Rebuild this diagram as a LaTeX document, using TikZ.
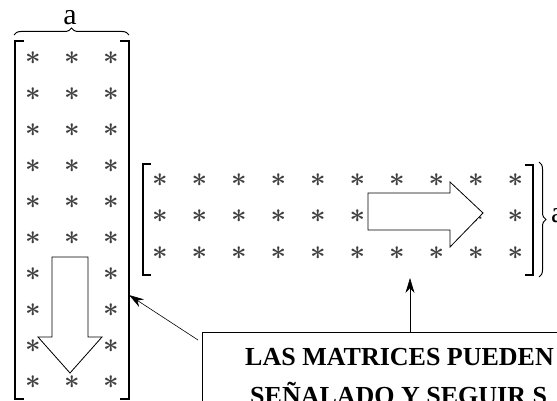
\documentclass[tikz,border=0pt]{standalone}
\usepackage{fontspec}
\newfontfamily\notefont{Liberation Serif}
\usetikzlibrary{arrows.meta,calc,decorations.pathreplacing}

\begin{document}
\begin{tikzpicture}[%
          x=1pt, y=-1pt,
          star/.style={inner sep=0pt,scale=2.7,transform shape,text=black!75,font=\boldmath},
          letter/.style={inner sep=0pt,font=\notefont\fontsize{30}{30}\selectfont},
          mbracket/.style={line width=1.4pt},
          mbrace/.style={decorate,decoration={brace,amplitude=7pt},line width=1pt},
          bigarrow/.style={draw,fill=white,line width=0.8pt,line join=miter},
          notebox/.style={draw,line width=0.8pt,minimum width=420pt,minimum height=100pt,anchor=north west},
          notetext/.style={anchor=base west,inner sep=0pt,
                           font=\notefont\bfseries\fontsize{26}{26}\selectfont},
          pointer/.style={-{Stealth[length=15pt,width=9pt]},line width=0.6pt}]

  \useasboundingbox (0,0) rectangle (557,401);

  % tall matrix
  \foreach \r in {0,...,9}
    \foreach \c in {0,1,2}
      \node[star] (l\r\c) at ({33+39*\c},{58+36*\r}) {$\ast$};
  \draw[mbracket] (24,41) -- (15,41) -- (15,399) -- (24,399);
  \draw[mbracket] (120,41) -- (129,41) -- (129,399) -- (120,399);
  \draw[mbrace] (14,35) -- (129,35);
  \node[letter] (atop) at (70,18) {a};

  % wide matrix
  \foreach \r in {0,1,2}
    \foreach \c in {0,...,9}
      \node[star] (w\r\c) at ({160+39.5*\c},{180+36.5*\r}) {$\ast$};
  \draw[mbracket] (151,164) -- (143,164) -- (143,275) -- (151,275);
  \draw[mbracket] (525,165) -- (533,165) -- (533,275) -- (525,275);
  \draw[mbrace] (539,162) -- (539,277);
  \node[letter,anchor=west] (aside) at (551,216) {a};

  % reading direction
  \draw[bigarrow] (52,257) -- (88,257) -- (88,337) -- (102,337) -- (70,373)
                  -- (38,337) -- (52,337) -- cycle;
  \draw[bigarrow] (368,193) -- (450,193) -- (450,182) -- (483,213)
                  -- (450,247) -- (450,230) -- (368,230) -- cycle;

  % note
  \node[notebox] (note) at (202,332) {};
  \node[notetext] (line1) at (245,365) {LAS MATRICES PUEDEN};
  \node[notetext] (line2) at (250,404) {SEÑALADO Y SEGUIR S};

  \coordinate (lhit) at (129,295);
  \coordinate (rhit) at (410,278);
  \draw[pointer] (note.north west -| rhit) -- (rhit);
  \draw[pointer] ($(note.north west)+(-4,8)$) -- (lhit);

\end{tikzpicture}
\end{document}
